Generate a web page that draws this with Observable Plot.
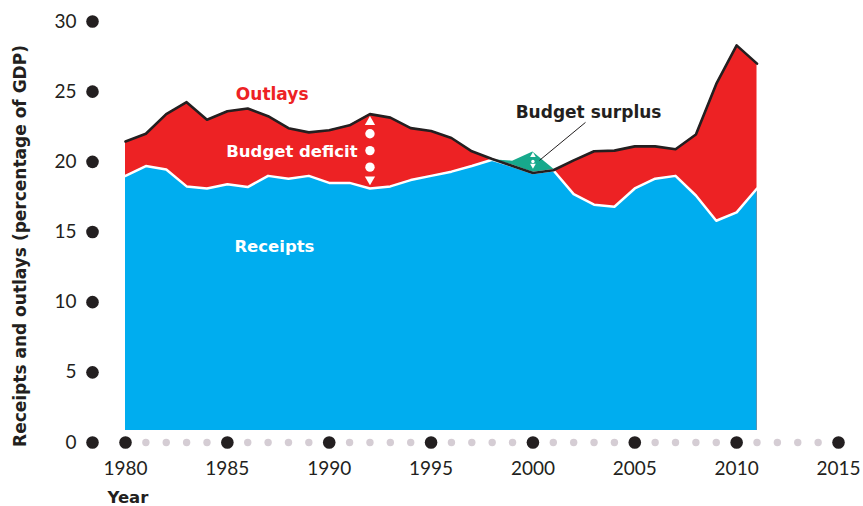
<!DOCTYPE html>
<html><head><meta charset="utf-8">
<script src="https://cdn.jsdelivr.net/npm/d3@7"></script>
<script src="https://cdn.jsdelivr.net/npm/@observablehq/plot@0.6"></script>
<style>body{margin:0;background:#fff}</style>
</head><body><div id="chart"></div>
<script>
const years = [1980,1981,1982,1983,1984,1985,1986,1987,1988,1989,1990,1991,1992,1993,1994,1995,1996,1997,1998,1999,2000,2001,2002,2003,2004,2005,2006,2007,2008,2009,2010,2011];
const receipts = [19.0,19.7,19.45,18.25,18.1,18.4,18.2,19.0,18.8,19.0,18.5,18.5,18.1,18.25,18.7,19.0,19.3,19.7,20.15,20.05,20.7,19.5,17.7,16.95,16.8,18.1,18.8,19.0,17.6,15.8,16.4,18.1];
const outlays = [21.45,22.0,23.4,24.25,23.0,23.6,23.8,23.25,22.4,22.1,22.25,22.6,23.4,23.15,22.4,22.2,21.7,20.75,20.2,19.7,19.2,19.4,20.1,20.75,20.8,21.1,21.1,20.9,21.95,25.55,28.3,27.0];
const yTicks = [0,5,10,15,20,25,30];
const majorYears = [1980,1985,1990,1995,2000,2005,2010,2015];
const minorYears = [1981,1982,1983,1984,1986,1987,1988,1989,1991,1992,1993,1994,1996,1997,1998,1999,2001,2002,2003,2004,2006,2007,2008,2009,2011,2012,2013,2014];

const data = years.map((year, i) => ({year, receipts: receipts[i], outlays: outlays[i], low: Math.min(receipts[i], outlays[i])}));

const RED = "#ed2224", BLUE = "#00adef", GREEN = "#17a98c", INK = "#231f20", GRAY = "#d5cdd4";
const BASE = 0.85;
const X0 = 1978.38;
const BOLD = "'DejaVu Sans', sans-serif";

const chart = Plot.plot({
  width: 863, height: 506,
  marginTop: 21, marginBottom: 64, marginLeft: 92, marginRight: 25,
  x: {domain: [X0, 2015], axis: null},
  y: {domain: [0, 30], axis: null},
  style: {fontFamily: "Lato, 'DejaVu Sans', sans-serif", background: "#fff", overflow: "visible"},
  marks: [
    Plot.areaY(data, {x: "year", y1: BASE, y2: "receipts", fill: GREEN}),
    Plot.areaY(data, {x: "year", y1: BASE, y2: "outlays", fill: RED}),
    Plot.areaY(data, {x: "year", y1: BASE, y2: "low", fill: BLUE}),
    Plot.line(data, {x: "year", y: "low", stroke: "#fff", strokeWidth: 2.5}),
    Plot.line(data, {x: "year", y: "outlays", stroke: INK, strokeWidth: 2.6}),
    // x axis dots
    Plot.dot(minorYears, {x: d => d, y: 0, r: 3.7, fill: GRAY}),
    Plot.dot(majorYears, {x: d => d, y: 0, r: 6.3, fill: INK}),
    Plot.text(majorYears, {x: d => d, y: 0, dy: 26, text: d => String(d), fontSize: 19, fill: INK}),
    // y axis dots
    Plot.dot(yTicks, {y: d => d, frameAnchor: "left", r: 6.3, fill: INK}),
    Plot.text(yTicks, {y: d => d, frameAnchor: "left", dx: -16, textAnchor: "end", text: d => String(d), fontSize: 19, fill: INK}),
    // axis titles
    Plot.text(["Year"], {frameAnchor: "bottom-left", dx: 15, dy: 60, textAnchor: "start", text: d => d, fontSize: 16.5, fontWeight: "bold", fontFamily: BOLD, fill: INK}),
    Plot.text(["Receipts and outlays (percentage of GDP)"], {frameAnchor: "left", dx: -72, dy: 14, rotate: -90, textAnchor: "middle", text: d => d, fontSize: 17, fontWeight: "bold", fontFamily: BOLD, fill: INK}),
    // annotations
    Plot.text(["Outlays"], {x: 1987.2, y: 24.8, text: d => d, fontSize: 17, fontWeight: "bold", fontFamily: BOLD, fill: RED}),
    Plot.text(["Budget deficit"], {x: 1988.17, y: 20.74, text: d => d, fontSize: 16.5, fontWeight: "bold", fontFamily: BOLD, fill: "#fff"}),
    Plot.text(["Receipts"], {x: 1987.31, y: 13.92, text: d => d, fontSize: 16.5, fontWeight: "bold", fontFamily: BOLD, fill: "#fff"}),
    Plot.text(["Budget surplus"], {x: 2002.73, y: 23.54, text: d => d, fontSize: 17, fontWeight: "bold", fontFamily: BOLD, fill: INK}),
    Plot.link([0], {x1: 2002.58, y1: 22.81, x2: 2000.32, y2: 20.1, stroke: INK, strokeWidth: 1}),
    // deficit arrow
    Plot.dot([22.84], {x: 1992, y: d => d, symbol: "triangle", r: 3.8, fill: "#fff"}),
    Plot.dot([22.0, 20.8, 19.62], {x: 1992, y: d => d, r: 4.7, fill: "#fff"}),
    Plot.dot([18.75], {x: 1992, y: d => d, symbol: "triangle", r: 3.8, rotate: 180, fill: "#fff"}),
    // surplus arrow
    Plot.dot([20.46], {x: 2000, y: d => d, symbol: "triangle", r: 2.1, fill: "#fff"}),
    Plot.dot([20.02], {x: 2000, y: d => d, r: 1.7, fill: "#fff"}),
    Plot.dot([19.74], {x: 2000, y: d => d, symbol: "triangle", r: 2.1, rotate: 180, fill: "#fff"})
  ]
});
document.getElementById("chart").appendChild(chart);
</script>
</body></html>
